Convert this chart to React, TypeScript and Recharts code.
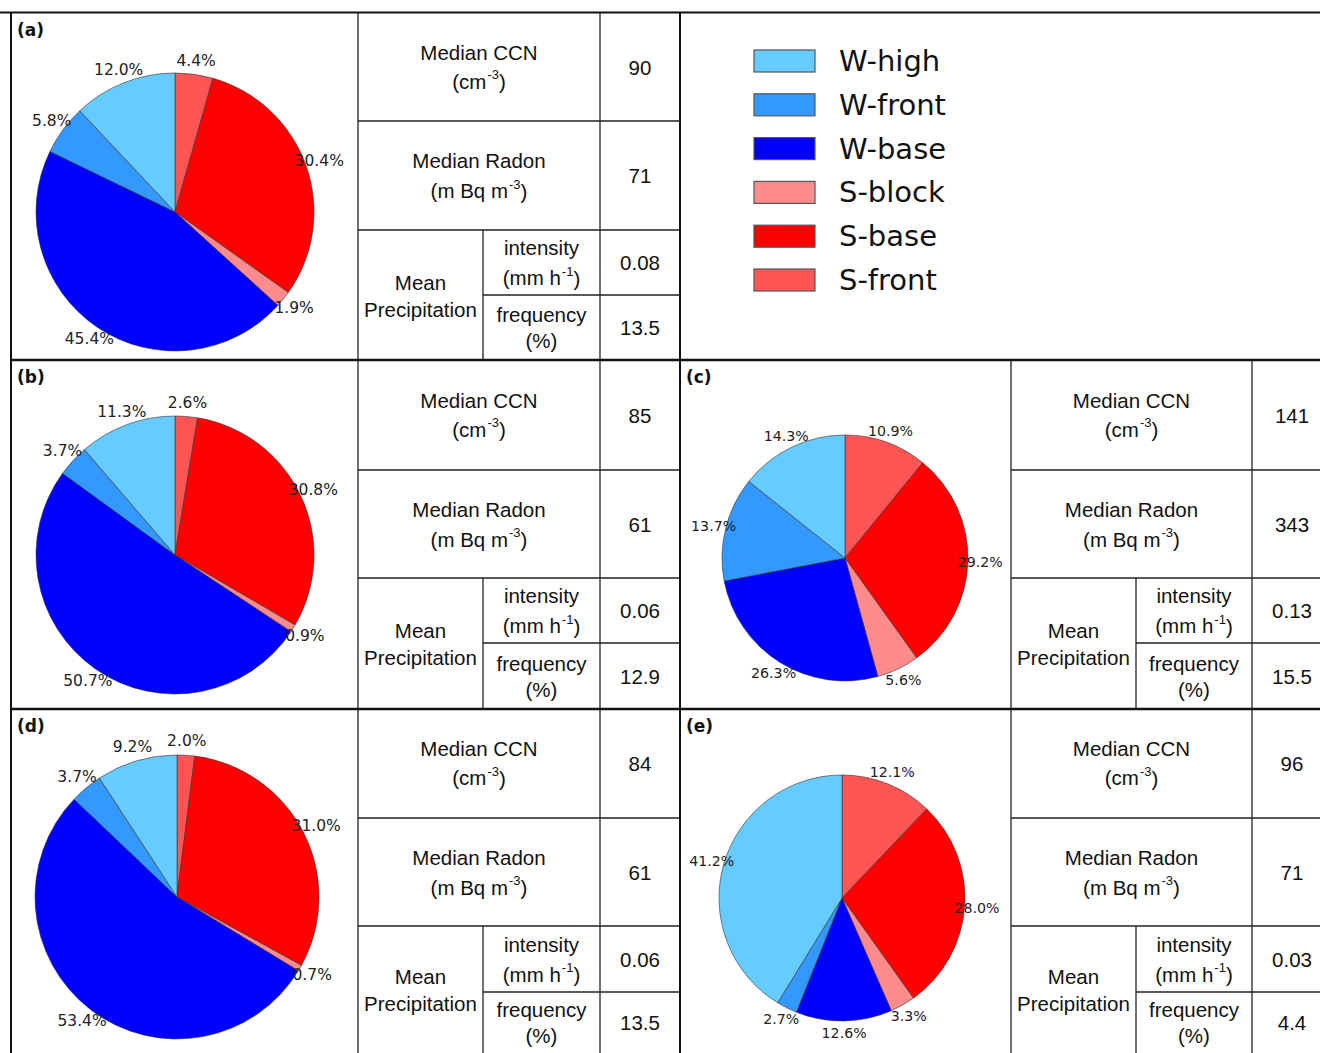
import { PieChart, Pie, Cell } from 'recharts';

// slice order runs clockwise from 12 o'clock
const categories = ['S-front', 'S-base', 'S-block', 'W-base', 'W-front', 'W-high'];
const categoryColors = ['#ff5555', '#ff0000', '#ff8c8c', '#0000ff', '#3399ff', '#66ccff'];
const legendOrder = ['W-high', 'W-front', 'W-base', 'S-block', 'S-base', 'S-front'];

const sharesA = [4.4, 30.4, 1.9, 45.4, 5.8, 12.0];
const sharesB = [2.6, 30.8, 0.9, 50.7, 3.7, 11.3];
const sharesC = [10.9, 29.2, 5.6, 26.3, 13.7, 14.3];
const sharesD = [2.0, 31.0, 0.7, 53.4, 3.7, 9.2];
const sharesE = [12.1, 28.0, 3.3, 12.6, 2.7, 41.2];

const panelLetters = ['(a)', '(b)', '(c)', '(d)', '(e)'];
const medianCcn = ['90', '85', '141', '84', '96'];
const medianRadon = ['71', '61', '343', '61', '71'];
const rainIntensity = ['0.08', '0.06', '0.13', '0.06', '0.03'];
const rainFrequency = ['13.5', '12.9', '15.5', '13.5', '4.4'];

const shares = [sharesA, sharesB, sharesC, sharesD, sharesE];

// geometry of each panel: pie area on the left, table on the right
const layout = [
  { left: 11, rows: [13, 121, 230, 295, 360], cols: [358, 483, 600], right: 680, cx: 175, cy: 212, r: 139, fs: 15.5 },
  { left: 11, rows: [360, 470, 578, 643, 709], cols: [358, 483, 600], right: 680, cx: 175, cy: 555, r: 139, fs: 15.5 },
  { left: 680, rows: [360, 470, 578, 643, 709], cols: [1011, 1136, 1252], right: 1320, cx: 845, cy: 558, r: 123, fs: 14.2 },
  { left: 11, rows: [709, 818, 926, 992, 1053], cols: [358, 483, 600], right: 680, cx: 177, cy: 897, r: 142, fs: 15.5 },
  { left: 680, rows: [709, 818, 926, 992, 1053], cols: [1011, 1136, 1252], right: 1320, cx: 842, cy: 898, r: 123, fs: 14.2 },
];

const RADIAN = Math.PI / 180;
const tableFont = '"Liberation Sans", Arial, sans-serif';
const plotFont = '"DejaVu Sans", sans-serif';

function makeLabel(fs: number) {
  return (p: any) => {
    const v = p.value ?? p.payload?.value;
    const r = p.outerRadius * 1.1;
    const x = p.cx + r * Math.cos(-p.midAngle * RADIAN);
    const y = p.cy + r * Math.sin(-p.midAngle * RADIAN);
    return (
      <text x={x} y={y} textAnchor="middle" dominantBaseline="central" fontSize={fs} fontFamily={plotFont} fill="#222">
        {v.toFixed(1)}%
      </text>
    );
  };
}

function Sup({ base, exp, tail }: { base: string; exp: string; tail: string }) {
  return (
    <>
      {base}
      <tspan dy={-7} dx={1} fontSize={13}>{exp}</tspan>
      <tspan dy={7}>{tail}</tspan>
    </>
  );
}

function Table({ i }: { i: number }) {
  const L = layout[i];
  const [r0, r1, r2, r3, r4] = L.rows;
  const [c0, c1, c2] = L.cols;
  const cText = (c0 + c2) / 2;
  const vx = c2 + 40;
  const m1 = (r0 + r1) / 2;
  const m2 = (r1 + r2) / 2;
  const m3 = (r2 + r3) / 2;
  const m4 = (r3 + r4) / 2;
  const mp = (r2 + r4) / 2;
  const thin = { stroke: '#222', strokeWidth: 1.3 };
  const t = { textAnchor: 'middle' as const, dominantBaseline: 'central' as const, fontFamily: tableFont, fontSize: 20.5, fill: '#111' };
  return (
    <g>
      <line x1={c0} y1={r0} x2={c0} y2={r4} {...thin} />
      <line x1={c1} y1={r2} x2={c1} y2={r4} {...thin} />
      <line x1={c2} y1={r0} x2={c2} y2={r4} {...thin} />
      <line x1={c0} y1={r1} x2={L.right} y2={r1} {...thin} />
      <line x1={c0} y1={r2} x2={L.right} y2={r2} {...thin} />
      <line x1={c1} y1={r3} x2={L.right} y2={r3} {...thin} />

      <text x={cText} y={m1 - 15} {...t}>Median CCN</text>
      <text x={cText} y={m1 + 14} {...t}><Sup base="(cm" exp="-3" tail=")" /></text>
      <text x={vx} y={m1} {...t}>{medianCcn[i]}</text>

      <text x={cText} y={m2 - 15} {...t}>Median Radon</text>
      <text x={cText} y={m2 + 15} {...t}><Sup base="(m Bq m" exp="-3" tail=")" /></text>
      <text x={vx} y={m2} {...t}>{medianRadon[i]}</text>

      <text x={(c0 + c1) / 2} y={mp - 13} {...t}>Mean</text>
      <text x={(c0 + c1) / 2} y={mp + 14} {...t}>Precipitation</text>

      <text x={(c1 + c2) / 2} y={m3 - 15} {...t}>intensity</text>
      <text x={(c1 + c2) / 2} y={m3 + 15} {...t}><Sup base="(mm h" exp="-1" tail=")" /></text>
      <text x={vx} y={m3} {...t}>{rainIntensity[i]}</text>

      <text x={(c1 + c2) / 2} y={m4 - 13} {...t}>frequency</text>
      <text x={(c1 + c2) / 2} y={m4 + 13} {...t}>(%)</text>
      <text x={vx} y={m4} {...t}>{rainFrequency[i]}</text>

      <text x={L.left + 6} y={L.rows[0] + 17} fontFamily={plotFont} fontWeight="bold" fontSize={17} dominantBaseline="central" fill="#111">
        {panelLetters[i]}
      </text>
    </g>
  );
}

function PiePanel({ i }: { i: number }) {
  const L = layout[i];
  const w = L.cols[0] - L.left;
  const h = L.rows[4] - L.rows[0];
  const data = categories.map((name, k) => ({ name, value: shares[i][k] }));
  return (
    <div style={{ position: 'absolute', left: L.left, top: L.rows[0], width: w, height: h }}>
      <PieChart width={w} height={h} margin={{ top: 0, right: 0, bottom: 0, left: 0 }}>
        <Pie
          data={data}
          dataKey="value"
          cx={L.cx - L.left}
          cy={L.cy - L.rows[0]}
          outerRadius={L.r}
          startAngle={90}
          endAngle={-270}
          stroke="#333"
          strokeWidth={0.6}
          labelLine={false}
          label={makeLabel(L.fs)}
          isAnimationActive={false}
        >
          {data.map((d, k) => (
            <Cell key={d.name} fill={categoryColors[k]} />
          ))}
        </Pie>
      </PieChart>
    </div>
  );
}

export default function App() {
  return (
    <div style={{ position: 'absolute', left: 0, top: 0, width: 1320, height: 1053, background: '#fff', overflow: 'hidden' }}>
      {layout.map((_, i) => (
        <PiePanel key={i} i={i} />
      ))}
      <svg width={1320} height={1053} style={{ position: 'absolute', left: 0, top: 0, pointerEvents: 'none' }}>
        {layout.map((_, i) => (
          <Table key={i} i={i} />
        ))}
        {/* outer frame */}
        <line x1={0} y1={12.5} x2={1320} y2={12.5} stroke="#111" strokeWidth={2} />
        <line x1={11} y1={12} x2={11} y2={1053} stroke="#111" strokeWidth={2} />
        <line x1={680} y1={12} x2={680} y2={1053} stroke="#111" strokeWidth={2} />
        <line x1={11} y1={360} x2={1320} y2={360} stroke="#111" strokeWidth={2.5} />
        <line x1={11} y1={709} x2={1320} y2={709} stroke="#111" strokeWidth={2.5} />

        {/* legend */}
        {legendOrder.map((name, k) => {
          const y = 61 + k * 43.8;
          const color = categoryColors[categories.indexOf(name)];
          return (
            <g key={name}>
              <rect x={754} y={y - 11} width={61} height={22} fill={color} stroke="#555" strokeWidth={1.2} />
              <text x={839} y={y} fontFamily={plotFont} fontSize={29} dominantBaseline="central" fill="#111">
                {name}
              </text>
            </g>
          );
        })}
      </svg>
    </div>
  );
}
